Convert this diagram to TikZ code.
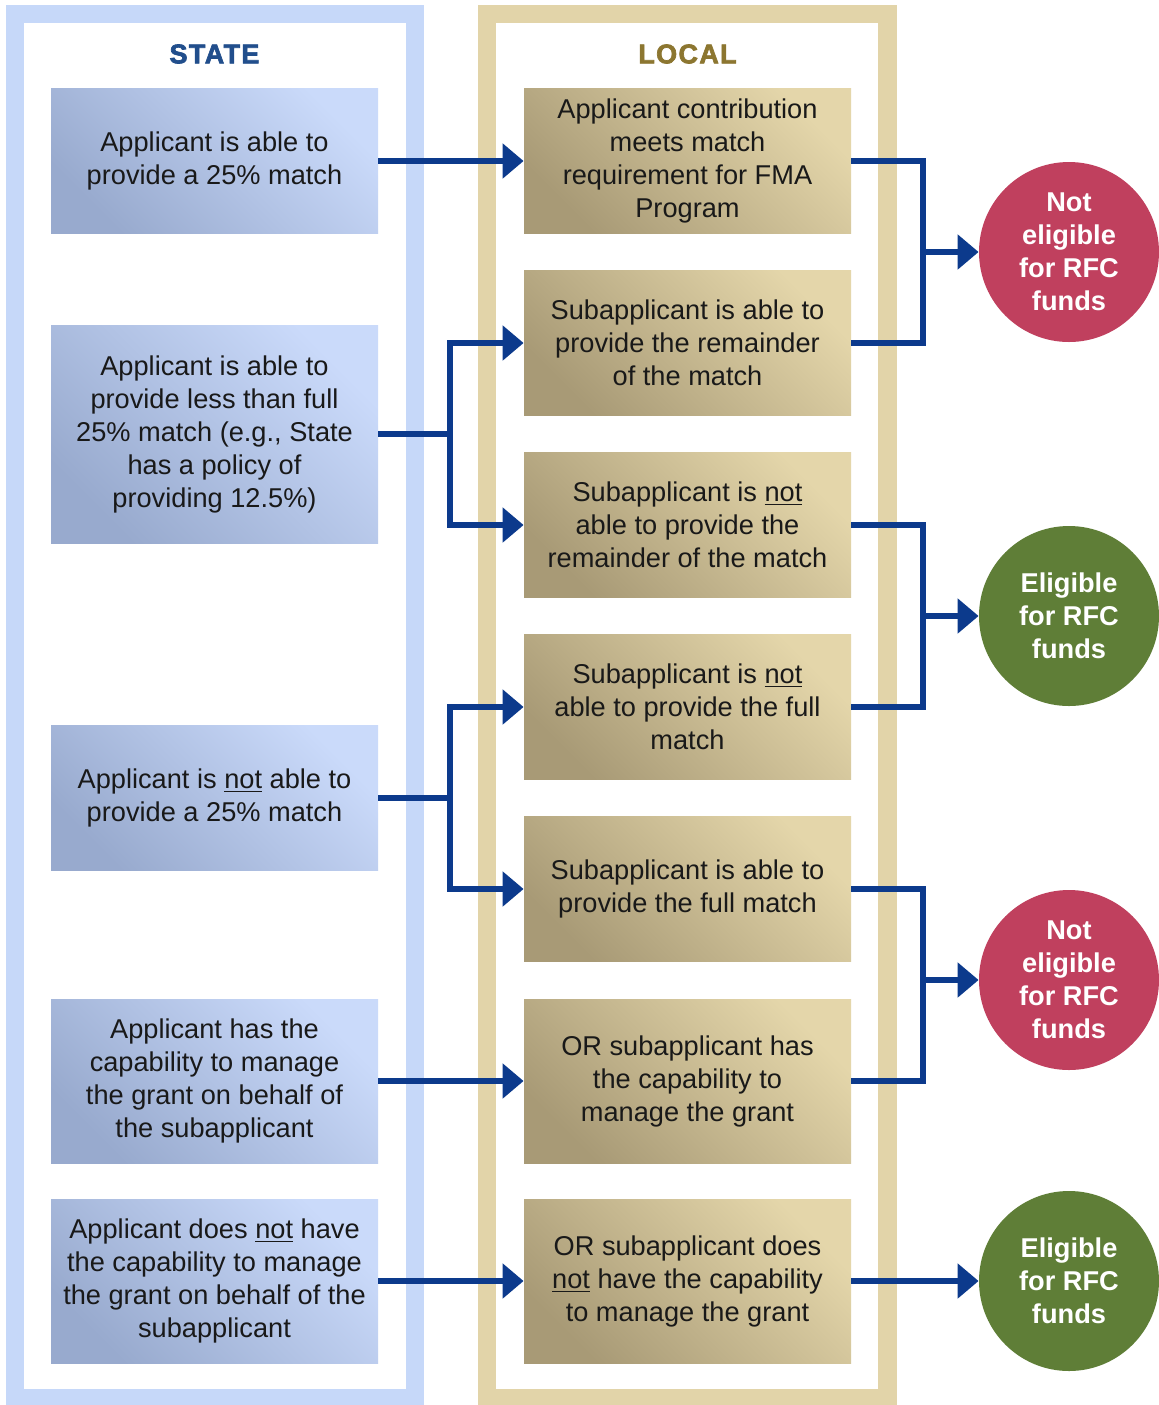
\documentclass[tikz,border=0pt]{standalone}
\usepackage{fontspec}
\setmainfont{Liberation Sans}
\newfontfamily\headfont[LetterSpace=5,FakeBold=2.5]{Liberation Sans Bold}
\usetikzlibrary{arrows.meta}
\definecolor{stateframe}{RGB}{198,216,249}
\definecolor{localframe}{RGB}{226,212,169}
\definecolor{statelight}{RGB}{202,218,250}
\definecolor{statedark}{RGB}{152,170,206}
\definecolor{locallight}{RGB}{228,214,170}
\definecolor{localdark}{RGB}{168,154,118}
\definecolor{statehead}{RGB}{33,78,140}
\definecolor{localhead}{RGB}{140,118,48}
\definecolor{arrowblue}{RGB}{12,58,140}
\definecolor{noteligible}{RGB}{192,64,94}
\definecolor{eligible}{RGB}{95,126,55}
\definecolor{ink}{RGB}{25,25,25}
\begin{document}
\begin{tikzpicture}[x=0.5pt, y=-0.5pt, font=\fontsize{13.6}{16.5}\selectfont,
    statebox/.style={rectangle, align=center, text=ink, inner sep=2pt, minimum width=163.5pt, minimum height=72.5pt, bottom color=statedark, top color=statelight, shading angle=-45},
    localbox/.style={rectangle, align=center, text=ink, inner sep=2pt, minimum width=163.5pt, minimum height=72.5pt, bottom color=localdark, top color=locallight, shading angle=-45},
    verdict/.style={circle, minimum size=90pt, inner sep=0pt, align=center, text=white, font=\fontsize{13.6}{16.5}\selectfont\bfseries},
    link/.style={draw=arrowblue, line width=2.7pt},
    flow/.style={link, -{Triangle[length=10.5pt, width=17pt]}}]
    \useasboundingbox (0,0) rectangle (1159,1405);
    \fill[white] (0,0) rectangle (1159,1405);
    \fill[stateframe] (6,5) rectangle (424,1405);
    \fill[white] (24,23) rectangle (406,1389);
    \fill[localframe] (478,5) rectangle (897,1405);
    \fill[white] (496,23) rectangle (878,1389);
    \node[text=statehead, font=\headfont\fontsize{13.5}{16}\selectfont] (statehd) at (214.5,54) {STATE};
    \node[text=localhead, font=\headfont\fontsize{13.5}{16}\selectfont] (localhd) at (687.5,54) {LOCAL};

    \node[statebox] (s1) at (214.5,161) {Applicant is able to\\provide a 25\% match};
    \node[statebox, minimum height=109pt] (s2) at (214.5,434) {Applicant is able to\\provide less than full\\25\% match (e.g., State\\has a policy of\\providing 12.5\%)};
    \node[statebox] (s3) at (214.5,798) {Applicant is \underline{not} able to\\provide a 25\% match};
    \node[statebox, minimum height=82pt] (s4) at (214.5,1081) {Applicant has the\\capability to manage\\the grant on behalf of\\the subapplicant};
    \node[statebox, minimum height=82pt] (s5) at (214.5,1281) {Applicant does \underline{not} have\\the capability to manage\\the grant on behalf of the\\subapplicant};

    \node[localbox] (l1) at (687.5,161) {Applicant contribution\\meets match\\requirement for FMA\\Program};
    \node[localbox] (l2) at (687.5,343) {Subapplicant is able to\\provide the remainder\\of the match};
    \node[localbox] (l3) at (687.5,525) {Subapplicant is \underline{not}\\able to provide the\\remainder of the match};
    \node[localbox] (l4) at (687.5,707) {Subapplicant is \underline{not}\\able to provide the full\\match};
    \node[localbox] (l5) at (687.5,889) {Subapplicant is able to\\provide the full match};
    \node[localbox, minimum height=82pt] (l6) at (687.5,1081) {OR subapplicant has\\the capability to\\manage the grant};
    \node[localbox, minimum height=82pt] (l7) at (687.5,1281) {OR subapplicant does\\\underline{not} have the capability\\to manage the grant};

    \node[verdict, fill=noteligible] (c1) at (1069,252) {Not\\eligible\\for RFC\\funds};
    \node[verdict, fill=eligible] (c2) at (1069,616) {Eligible\\for RFC\\funds};
    \node[verdict, fill=noteligible] (c3) at (1069,980) {Not\\eligible\\for RFC\\funds};
    \node[verdict, fill=eligible] (c4) at (1069,1281) {Eligible\\for RFC\\funds};

    \coordinate (k1) at (450,434);
    \coordinate (k2) at (450,798);
    \coordinate (j1) at (923,252);
    \coordinate (j2) at (923,616);
    \coordinate (j3) at (923,980);

    \draw[flow] (s1) -- (l1);
    \draw[link] (s2.east) -- (k1);
    \draw[flow] (k1) |- (l2.west);
    \draw[flow] (k1) |- (l3.west);
    \draw[link] (s3.east) -- (k2);
    \draw[flow] (k2) |- (l4.west);
    \draw[flow] (k2) |- (l5.west);
    \draw[flow] (s4) -- (l6);
    \draw[flow] (s5) -- (l7);

    \draw[link] (l1.east) -| (j1) |- (l2.east);
    \draw[flow] (j1) -- (c1);
    \draw[link] (l3.east) -| (j2) |- (l4.east);
    \draw[flow] (j2) -- (c2);
    \draw[link] (l5.east) -| (j3) |- (l6.east);
    \draw[flow] (j3) -- (c3);
    \draw[flow] (l7) -- (c4);
\end{tikzpicture}
\end{document}
